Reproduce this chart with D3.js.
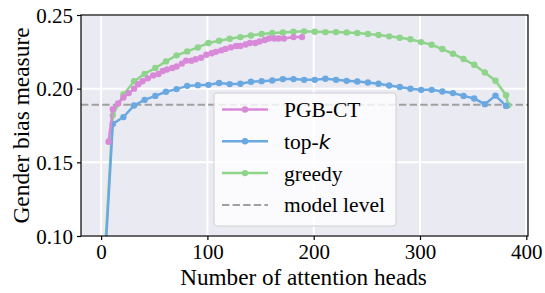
<!DOCTYPE html>
<html>
<head>
<meta charset="utf-8">
<script src="https://cdn.jsdelivr.net/npm/d3@7"></script>
<style>
  body { margin: 0; background: #fff; }
  text { font-family: "Liberation Serif", "Times New Roman", serif; fill: #000; }
</style>
</head>
<body>
<div id="chart"></div>
<script>
// values
var greedyX = [1, 11, 21, 31, 41, 51, 61, 71, 81, 91, 101, 111, 121, 131, 141, 151, 161, 171, 181, 191,
               201, 211, 221, 231, 241, 251, 261, 271, 281, 291, 301, 311, 321, 331, 341, 351, 361, 371, 381, 383];
var greedyY = [0.055, 0.182, 0.196, 0.205, 0.210, 0.214, 0.2185, 0.2226, 0.2253, 0.228, 0.231, 0.2325, 0.2339, 0.235, 0.2361, 0.2371, 0.2378, 0.2382, 0.2386, 0.2389,
               0.2386, 0.2384, 0.2384, 0.2382, 0.2378, 0.2371, 0.2364, 0.2355, 0.2346, 0.2335, 0.2316, 0.2298, 0.2269, 0.2237, 0.2201, 0.2162, 0.211, 0.2054, 0.1956, 0.1887];

var topkX = [1, 11, 21, 31, 41, 51, 61, 71, 81, 91, 101, 111, 121, 131, 141, 151, 161, 171, 181, 191,
             201, 211, 221, 231, 241, 251, 261, 271, 281, 291, 301, 311, 321, 331, 341, 351, 361, 371, 381];
var topkY = [0.05, 0.176, 0.1807, 0.1886, 0.1924, 0.1951, 0.1979, 0.1997, 0.2019, 0.2024, 0.2026, 0.2038, 0.2031, 0.2033, 0.2047, 0.2051, 0.2055, 0.2065, 0.2065, 0.206,
             0.206, 0.2067, 0.206, 0.2053, 0.2049, 0.2042, 0.2033, 0.2021, 0.2011, 0.1999, 0.1992, 0.1992, 0.1981, 0.197, 0.1951, 0.1933, 0.1895, 0.1953, 0.1883];

var pgbX = [7, 11, 16, 21, 26, 31, 35, 39, 44, 49, 54, 58, 62, 67, 71, 76, 80, 85, 89, 94,
            99, 104, 108, 113, 117, 122, 127, 131, 136, 140, 145, 149, 154, 158, 163, 167, 172, 181, 189];
var pgbY = [0.164, 0.186, 0.190, 0.194, 0.197, 0.200, 0.203, 0.205, 0.207, 0.209, 0.210, 0.212, 0.213, 0.214, 0.215, 0.217, 0.219, 0.219, 0.220, 0.221,
            0.223, 0.224, 0.225, 0.226, 0.227, 0.228, 0.229, 0.229, 0.230, 0.231, 0.231, 0.232, 0.233, 0.234, 0.234, 0.234, 0.234, 0.235, 0.235];

var modelLevel = 0.189;
var xTicks = [0, 100, 200, 300, 400];
var yTicks = [0.10, 0.15, 0.20, 0.25];
var legendNames = ["PGB-CT", "top-k", "greedy", "model level"];

var W = 545, H = 293;
var pL = 81, pR = 528, pT = 15, pB = 236;

var x = d3.scaleLinear().domain([-18.9, 401.6]).range([pL, pR]);
var y = d3.scaleLinear().domain([0.10, 0.25]).range([pB, pT]);

var svg = d3.select("#chart").append("svg")
  .attr("width", W).attr("height", H);

svg.append("rect")
  .attr("x", pL).attr("y", pT)
  .attr("width", pR - pL).attr("height", pB - pT)
  .attr("fill", "#eaeaf2");

svg.append("clipPath").attr("id", "clip")
  .append("rect")
  .attr("x", pL).attr("y", pT)
  .attr("width", pR - pL).attr("height", pB - pT);

// grid
svg.append("g").selectAll("line").data(xTicks).join("line")
  .attr("x1", d => x(d)).attr("x2", d => x(d))
  .attr("y1", pT).attr("y2", pB)
  .attr("stroke", "#fff").attr("stroke-width", 2);
svg.append("g").selectAll("line").data(yTicks).join("line")
  .attr("x1", pL).attr("x2", pR)
  .attr("y1", d => y(d)).attr("y2", d => y(d))
  .attr("stroke", "#fff").attr("stroke-width", 2);

var plot = svg.append("g").attr("clip-path", "url(#clip)");

plot.append("line")
  .attr("x1", pL).attr("x2", pR)
  .attr("y1", y(modelLevel)).attr("y2", y(modelLevel))
  .attr("stroke", "#a0a0a0").attr("stroke-width", 2)
  .attr("stroke-dasharray", "7.4,3.2");

var series = [
  {xs: greedyX, ys: greedyY, color: "#8fd48b"},
  {xs: topkX, ys: topkY, color: "#6aa8e2"},
  {xs: pgbX, ys: pgbY, color: "#d88ad8"}
];
var line = d3.line().x(d => x(d[0])).y(d => y(d[1]));

series.forEach(function(s) {
  var pts = s.xs.map((v, i) => [v, s.ys[i]]);
  plot.append("path").datum(pts)
    .attr("d", line)
    .attr("fill", "none")
    .attr("stroke", s.color).attr("stroke-width", 2.5);
  plot.append("g").selectAll("circle").data(pts).join("circle")
    .attr("cx", d => x(d[0])).attr("cy", d => y(d[1]))
    .attr("r", 3.2).attr("fill", s.color);
});

// spines
svg.append("rect")
  .attr("x", pL).attr("y", pT)
  .attr("width", pR - pL).attr("height", pB - pT)
  .attr("fill", "none").attr("stroke", "#000").attr("stroke-width", 1.2);

// axes
var xAxis = svg.append("g")
  .attr("transform", "translate(0," + pB + ")")
  .call(d3.axisBottom(x).tickValues(xTicks).tickSize(4).tickPadding(3).tickFormat(d3.format("d")));
var yAxis = svg.append("g")
  .attr("transform", "translate(" + pL + ",0)")
  .call(d3.axisLeft(y).tickValues(yTicks).tickSize(4).tickPadding(4).tickFormat(d3.format(".2f")));
[xAxis, yAxis].forEach(function(a) {
  a.select(".domain").remove();
  a.selectAll("line").attr("stroke", "#000").attr("stroke-width", 1.2);
  a.selectAll("text").attr("font-family", "Liberation Serif").attr("font-size", 21).attr("fill", "#000");
});
xAxis.selectAll("text").attr("dy", "0.74em");
yAxis.selectAll("text").attr("dy", "0.34em");

svg.append("text")
  .attr("x", (pL + pR) / 2 - 1).attr("y", 285)
  .attr("text-anchor", "middle").attr("font-size", 23.2)
  .text("Number of attention heads");
svg.append("text")
  .attr("transform", "translate(29," + ((pT + pB) / 2) + ") rotate(-90)")
  .attr("text-anchor", "middle").attr("font-size", 23.4)
  .text("Gender bias measure");

// legend
var lg = svg.append("g");
lg.append("rect")
  .attr("x", 214).attr("y", 93).attr("width", 182).attr("height", 133)
  .attr("rx", 3).attr("fill", "#fff").attr("fill-opacity", 0.8)
  .attr("stroke", "#d0d0d0").attr("stroke-width", 1);
var legColors = ["#d88ad8", "#6aa8e2", "#8fd48b", "#a0a0a0"];
legendNames.forEach(function(name, i) {
  var yy = 109.5 + i * 31.8;
  var l = lg.append("line")
    .attr("x1", 222).attr("x2", 268).attr("y1", yy).attr("y2", yy)
    .attr("stroke", legColors[i]).attr("stroke-width", 2.5);
  if (i < 3) {
    lg.append("circle").attr("cx", 245).attr("cy", yy).attr("r", 3.2).attr("fill", legColors[i]);
  } else {
    l.attr("stroke-width", 2).attr("stroke-dasharray", "7.4,3.2");
  }
  var t = lg.append("text").attr("x", 284).attr("y", yy + 7.5).attr("font-size", 21.5);
  if (name === "top-k") {
    t.append("tspan").text("top-");
    t.append("tspan").attr("font-family", "DejaVu Sans").attr("font-style", "italic").attr("font-size", 20).text("k");
  } else {
    t.text(name);
  }
});
</script>
</body>
</html>
